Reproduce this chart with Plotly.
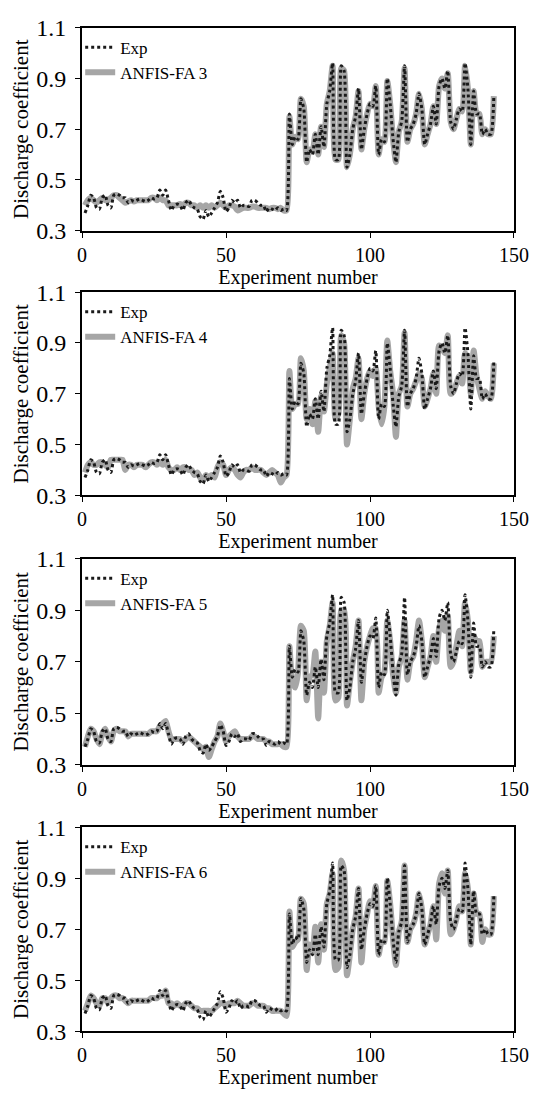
import plotly.graph_objects as go

# Experiment numbers 1..143
experiment = list(range(1, 144))

# Measured discharge coefficient
exp_cd = [
    0.37, 0.40, 0.44, 0.43, 0.39, 0.385, 0.43, 0.44, 0.40, 0.39,
    0.44, 0.445, 0.44, 0.43, 0.43, 0.41, 0.42, 0.415, 0.42, 0.425,
    0.42, 0.415, 0.42, 0.43, 0.425, 0.43, 0.46, 0.44, 0.46, 0.42,
    0.38, 0.40, 0.405, 0.40, 0.38, 0.41, 0.42, 0.40, 0.39, 0.385,
    0.355, 0.345, 0.38, 0.355, 0.37, 0.39, 0.41, 0.455, 0.43, 0.375,
    0.39, 0.42, 0.41, 0.42, 0.39, 0.40, 0.40, 0.395, 0.42, 0.42,
    0.41, 0.40, 0.40, 0.375, 0.39, 0.385, 0.38, 0.39, 0.38, 0.385,
    0.38,
    0.76, 0.64, 0.67, 0.66, 0.82, 0.78, 0.57, 0.62, 0.60,
    0.68, 0.60, 0.71, 0.63, 0.80, 0.85, 0.96, 0.58, 0.58, 0.95,
    0.93, 0.55, 0.60, 0.70, 0.75, 0.86, 0.62, 0.70, 0.76, 0.80,
    0.79, 0.87, 0.60, 0.66, 0.65, 0.90, 0.80, 0.66, 0.57, 0.69,
    0.73, 0.95, 0.65, 0.70, 0.72, 0.76, 0.84, 0.78, 0.64, 0.68,
    0.72, 0.79, 0.72, 0.87, 0.90, 0.86, 0.93, 0.73, 0.70, 0.74,
    0.78, 0.77, 0.96, 0.86, 0.64, 0.85, 0.76, 0.76, 0.68, 0.70,
    0.68, 0.68, 0.83,
]

# ANFIS-FA model predictions
anfis_fa3 = [
    0.40, 0.42, 0.43, 0.42, 0.41, 0.42, 0.43, 0.42, 0.42, 0.43,
    0.44, 0.44, 0.43, 0.42, 0.41, 0.415, 0.42, 0.415, 0.42, 0.42,
    0.42, 0.42, 0.42, 0.43, 0.43, 0.42, 0.43, 0.42, 0.42, 0.40,
    0.40, 0.40, 0.40, 0.405, 0.40, 0.41, 0.41, 0.40, 0.40, 0.39,
    0.40, 0.39, 0.40, 0.39, 0.40, 0.39, 0.40, 0.41, 0.40, 0.39,
    0.40, 0.40, 0.395, 0.38, 0.385, 0.39, 0.39, 0.39, 0.395, 0.395,
    0.39, 0.39, 0.39, 0.39, 0.385, 0.39, 0.39, 0.385, 0.39, 0.38,
    0.38,
    0.75, 0.64, 0.67, 0.66, 0.82, 0.79, 0.57, 0.62, 0.61,
    0.68, 0.60, 0.71, 0.63, 0.80, 0.85, 0.95, 0.58, 0.58, 0.94,
    0.93, 0.55, 0.60, 0.70, 0.75, 0.85, 0.62, 0.70, 0.76, 0.80,
    0.79, 0.87, 0.60, 0.66, 0.65, 0.89, 0.80, 0.66, 0.57, 0.69,
    0.73, 0.94, 0.65, 0.70, 0.72, 0.76, 0.84, 0.78, 0.64, 0.68,
    0.72, 0.79, 0.72, 0.87, 0.90, 0.86, 0.92, 0.73, 0.70, 0.74,
    0.78, 0.77, 0.95, 0.86, 0.64, 0.85, 0.76, 0.76, 0.68, 0.70,
    0.68, 0.68, 0.83,
]

anfis_fa4 = [
    0.39, 0.42, 0.43, 0.42, 0.42, 0.43, 0.43, 0.42, 0.41, 0.44,
    0.44, 0.44, 0.44, 0.44, 0.40, 0.42, 0.42, 0.41, 0.42, 0.42,
    0.42, 0.41, 0.42, 0.43, 0.43, 0.42, 0.43, 0.42, 0.44, 0.41,
    0.40, 0.40, 0.41, 0.40, 0.41, 0.41, 0.40, 0.40, 0.38, 0.39,
    0.37, 0.36, 0.38, 0.37, 0.38, 0.37, 0.41, 0.43, 0.42, 0.38,
    0.40, 0.41, 0.40, 0.38, 0.37, 0.39, 0.40, 0.40, 0.41, 0.40,
    0.40, 0.40, 0.39, 0.38, 0.39, 0.40, 0.39, 0.38, 0.35, 0.37,
    0.38,
    0.79, 0.64, 0.66, 0.66, 0.84, 0.79, 0.60, 0.64, 0.58,
    0.67, 0.55, 0.69, 0.63, 0.74, 0.80, 0.86, 0.60, 0.62, 0.93,
    0.90, 0.50, 0.60, 0.72, 0.76, 0.84, 0.60, 0.70, 0.76, 0.79,
    0.77, 0.80, 0.65, 0.58, 0.65, 0.91, 0.79, 0.70, 0.53, 0.70,
    0.73, 0.94, 0.65, 0.70, 0.72, 0.75, 0.78, 0.76, 0.65, 0.68,
    0.72, 0.78, 0.70, 0.89, 0.88, 0.86, 0.93, 0.70, 0.71, 0.74,
    0.77, 0.74, 0.86, 0.84, 0.70, 0.87, 0.77, 0.72, 0.68, 0.71,
    0.69, 0.68, 0.82,
]

anfis_fa5 = [
    0.37, 0.41, 0.44, 0.43, 0.40, 0.38, 0.42, 0.44, 0.41, 0.39,
    0.43, 0.44, 0.43, 0.43, 0.43, 0.41, 0.42, 0.42, 0.42, 0.42,
    0.42, 0.42, 0.42, 0.43, 0.43, 0.43, 0.45, 0.46, 0.47, 0.43,
    0.40, 0.40, 0.40, 0.40, 0.39, 0.40, 0.41, 0.40, 0.39, 0.38,
    0.37, 0.36, 0.37, 0.33, 0.36, 0.39, 0.41, 0.46, 0.43, 0.39,
    0.41, 0.42, 0.43, 0.41, 0.40, 0.40, 0.40, 0.40, 0.41, 0.41,
    0.40, 0.40, 0.40, 0.39, 0.39, 0.38, 0.38, 0.38, 0.38, 0.37,
    0.37,
    0.76, 0.62, 0.60, 0.66, 0.84, 0.82, 0.55, 0.64, 0.65,
    0.74, 0.48, 0.70, 0.58, 0.78, 0.84, 0.93, 0.55, 0.56, 0.90,
    0.90, 0.53, 0.62, 0.70, 0.76, 0.86, 0.55, 0.70, 0.76, 0.80,
    0.83, 0.83, 0.58, 0.64, 0.66, 0.86, 0.78, 0.65, 0.58, 0.68,
    0.72, 0.86, 0.63, 0.70, 0.72, 0.78, 0.86, 0.78, 0.64, 0.68,
    0.72, 0.80, 0.70, 0.83, 0.86, 0.82, 0.88, 0.68, 0.70, 0.76,
    0.82, 0.76, 0.93, 0.86, 0.66, 0.80, 0.78, 0.78, 0.68, 0.70,
    0.70, 0.70, 0.80,
]

anfis_fa6 = [
    0.38, 0.41, 0.44, 0.43, 0.41, 0.40, 0.43, 0.43, 0.41, 0.43,
    0.44, 0.44, 0.43, 0.43, 0.42, 0.41, 0.42, 0.42, 0.42, 0.42,
    0.42, 0.42, 0.42, 0.43, 0.43, 0.43, 0.44, 0.44, 0.46, 0.41,
    0.41, 0.40, 0.41, 0.40, 0.40, 0.41, 0.41, 0.40, 0.39, 0.39,
    0.38, 0.38, 0.38, 0.38, 0.38, 0.39, 0.40, 0.41, 0.41, 0.40,
    0.41, 0.41, 0.41, 0.42, 0.41, 0.40, 0.40, 0.40, 0.41, 0.41,
    0.40, 0.40, 0.40, 0.39, 0.39, 0.38, 0.38, 0.38, 0.38, 0.37,
    0.36,
    0.77, 0.63, 0.65, 0.66, 0.82, 0.80, 0.54, 0.64, 0.61,
    0.71, 0.57, 0.72, 0.62, 0.80, 0.84, 0.92, 0.54, 0.55, 0.97,
    0.93, 0.52, 0.60, 0.70, 0.75, 0.86, 0.57, 0.70, 0.76, 0.81,
    0.79, 0.87, 0.60, 0.65, 0.65, 0.89, 0.80, 0.66, 0.56, 0.69,
    0.73, 0.95, 0.65, 0.70, 0.72, 0.76, 0.84, 0.78, 0.64, 0.68,
    0.72, 0.79, 0.66, 0.88, 0.92, 0.84, 0.93, 0.68, 0.70, 0.74,
    0.79, 0.77, 0.92, 0.86, 0.64, 0.84, 0.76, 0.76, 0.65, 0.70,
    0.68, 0.68, 0.83,
]

models = [
    ("ANFIS-FA 3", anfis_fa3),
    ("ANFIS-FA 4", anfis_fa4),
    ("ANFIS-FA 5", anfis_fa5),
    ("ANFIS-FA 6", anfis_fa6),
]

x_ticks = [0, 50, 100, 150]
y_ticks = [0.3, 0.5, 0.7, 0.9, 1.1]

W, H = 555, 1097
FONT = "Liberation Serif"
# panel boxes in pixels: (top, bottom)
panel_px = [(15, 223), (286, 494), (559, 770), (834, 1043)]
left_px, right_px = 80, 528

fig = go.Figure()
layout = dict(
    width=W, height=H,
    margin=dict(l=0, r=0, t=0, b=0),
    paper_bgcolor="white", plot_bgcolor="white",
    font=dict(family=FONT, size=20, color="black"),
    showlegend=True,
)

for i, (name, pred) in enumerate(models):
    n = i + 1
    xa = "x" if n == 1 else f"x{n}"
    ya = "y" if n == 1 else f"y{n}"
    leg = "legend" if n == 1 else f"legend{n}"
    top, bot = panel_px[i]

    fig.add_trace(go.Scatter(
        x=experiment, y=pred, mode="lines", name=name,
        line=dict(color="#a6a6a6", width=6, shape="spline", smoothing=0.6),
        xaxis=xa, yaxis=ya, legend=leg,
    ))
    fig.add_trace(go.Scatter(
        x=experiment, y=exp_cd, mode="lines", name="Exp",
        line=dict(color="#1a1a1a", width=3, dash="3px,3px",
                  shape="spline", smoothing=0.6),
        xaxis=xa, yaxis=ya, legend=leg,
    ))

    xkey = "xaxis" if n == 1 else f"xaxis{n}"
    ykey = "yaxis" if n == 1 else f"yaxis{n}"
    layout[xkey] = dict(
        domain=[left_px / W, right_px / W], anchor=ya,
        range=[0, 150], tickvals=x_ticks, ticktext=[str(v) for v in x_ticks],
        showline=True, mirror=True, linecolor="black", linewidth=2,
        ticks="outside", ticklen=5, tickcolor="black", showgrid=False,
        zeroline=False, tickfont=dict(family=FONT, size=20),
        title=dict(text="Experiment number", font=dict(family=FONT, size=20), standoff=3),
    )
    layout[ykey] = dict(
        domain=[1 - bot / H, 1 - top / H], anchor=xa,
        range=[0.3, 1.1], tickvals=y_ticks, ticktext=[f"{v:.1f}" for v in y_ticks],
        showline=True, mirror=True, linecolor="black", linewidth=2,
        ticks="outside", ticklen=5, tickcolor="black", showgrid=False,
        zeroline=False, tickfont=dict(family=FONT, size=24),
        ticklabelstandoff=4,
        title=dict(text="Discharge coefficient", font=dict(family=FONT, size=21), standoff=2),
    )
    layout[leg] = dict(
        x=(left_px - 2) / W, y=1 - (top + 2) / H, xanchor="left", yanchor="top",
        bgcolor="rgba(0,0,0,0)", traceorder="reversed",
        font=dict(family=FONT, size=17, color="black"),
        tracegroupgap=0, itemwidth=30,
    )

fig.update_layout(**layout)
fig.write_html("out.html")
